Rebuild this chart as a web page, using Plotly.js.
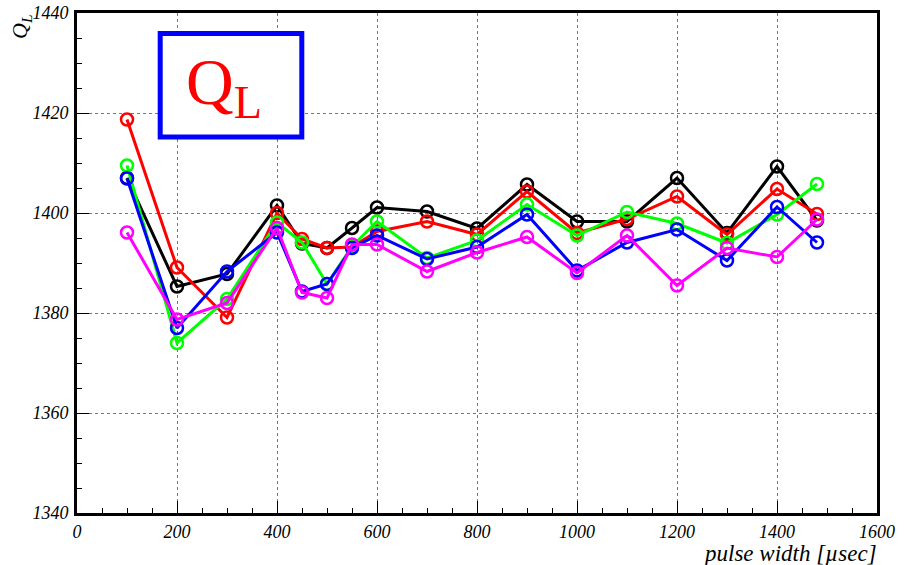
<!DOCTYPE html>
<html><head><meta charset="utf-8">
<script src="https://cdn.plot.ly/plotly-3.0.1.min.js"></script>
<style>body{margin:0;background:#fff}#c{width:913px;height:565px}</style>
</head><body><div id="c"></div>
<script>
const pulseWidth = [100,200,300,400,450,500,550,600,700,800,900,1000,1100,1200,1300,1400,1480];
const qBlack   = [1407.0,1385.3,1387.8,1401.5,1393.9,1393.0,1397.0,1401.1,1400.3,1396.9,1405.7,1398.3,1398.3,1407.0,1396.0,1409.3,1398.5];
const qRed     = [1418.7,1389.1,1379.1,1400.0,1394.8,1393.0,1393.2,1396.3,1398.3,1395.7,1404.3,1396.0,1398.8,1403.3,1395.7,1404.8,1399.8];
const qGreen   = [1409.5,1374.0,1382.8,1398.1,1394.1,1385.8,1393.3,1398.3,1391.0,1394.5,1401.7,1395.5,1400.2,1397.9,1394.0,1399.7,1405.8];
const qBlue    = [1406.9,1377.0,1388.3,1396.1,1384.3,1385.8,1393.0,1395.5,1390.8,1393.2,1399.7,1388.5,1394.1,1396.7,1390.5,1401.2,1394.1];
const qMagenta = [1396.1,1378.7,1382.0,1397.0,1384.1,1383.0,1393.7,1393.7,1388.3,1392.1,1395.2,1388.0,1395.5,1385.5,1393.0,1391.2,1398.7];
const xTickVals = [0,200,400,600,800,1000,1200,1400,1600];
const yTickVals = [1340,1360,1380,1400,1420,1440];
const seriesColors = ['#000000','#ff0000','#00ff00','#0000ff','#ff00ff'];
const seriesData = [qBlack,qRed,qGreen,qBlue,qMagenta];

const traces = seriesData.map((ys,i)=>({
  x: pulseWidth, y: ys, type:'scatter', mode:'lines+markers',
  line:{color:seriesColors[i], width:3},
  marker:{symbol:'circle-open', size:12, color:seriesColors[i], line:{width:2.5, color:seriesColors[i]}},
  showlegend:false, hoverinfo:'skip'
}));

const SERIF = '"Liberation Serif", "DejaVu Serif", serif';
const tickFont = {family:SERIF, size:18, color:'#000', style:'italic'};
const layout = {
  width:913, height:565,
  margin:{l:77, r:36, t:13, b:52},
  paper_bgcolor:'#fff', plot_bgcolor:'#fff',
  font:{family:SERIF, color:'#000', size:18},
  xaxis:{range:[0,1600], tickmode:'array', tickvals:xTickVals, ticktext:xTickVals.map(String),
    showgrid:true, gridcolor:'#777', griddash:'dot', gridwidth:1,
    zeroline:false, showline:true, linecolor:'#000', linewidth:3, mirror:true,
    ticks:'inside', ticklen:12, tickwidth:1, tickcolor:'#000', tickfont:tickFont,
    minor:{dtick:50, tick0:0, ticks:'inside', ticklen:5, tickcolor:'#000', showgrid:false}},
  yaxis:{range:[1340,1440], tickmode:'array', tickvals:yTickVals, ticktext:yTickVals.map(String),
    showgrid:true, gridcolor:'#777', griddash:'dot', gridwidth:1,
    zeroline:false, showline:true, linecolor:'#000', linewidth:3, mirror:true,
    ticks:'inside', ticklen:12, tickwidth:1, tickcolor:'#000', tickfont:tickFont, ticklabelstandoff:2,
    minor:{dtick:5, tick0:1340, ticks:'inside', ticklen:5, tickcolor:'#000', showgrid:false}},
  shapes:[{type:'rect', xref:'paper', yref:'paper', x0:0.104, x1:0.281, y0:0.752, y1:0.959,
    line:{color:'#0000ff', width:5}, fillcolor:'#ffffff', layer:'above'}],
  annotations:[
    {xref:'paper', yref:'paper', x:0.184, y:0.853, xanchor:'center', yanchor:'middle', showarrow:false,
     text:'Q<sub>L</sub>', font:{family:SERIF, size:66, color:'#ff0000'}},
    {xref:'paper', yref:'paper', x:1.003, y:-0.08, xanchor:'right', yanchor:'middle', showarrow:false,
     text:'pulse width [µsec]', font:{family:SERIF, size:23, color:'#000', style:'italic'}},
    {xref:'paper', yref:'paper', x:-0.07, y:1.0, xanchor:'center', yanchor:'top', showarrow:false, textangle:-90,
     text:'Q<sub>L</sub>', font:{family:SERIF, size:22, color:'#000', style:'italic'}}
  ]
};
Plotly.newPlot('c', traces, layout, {staticPlot:true, displayModeBar:false});
</script></body></html>
